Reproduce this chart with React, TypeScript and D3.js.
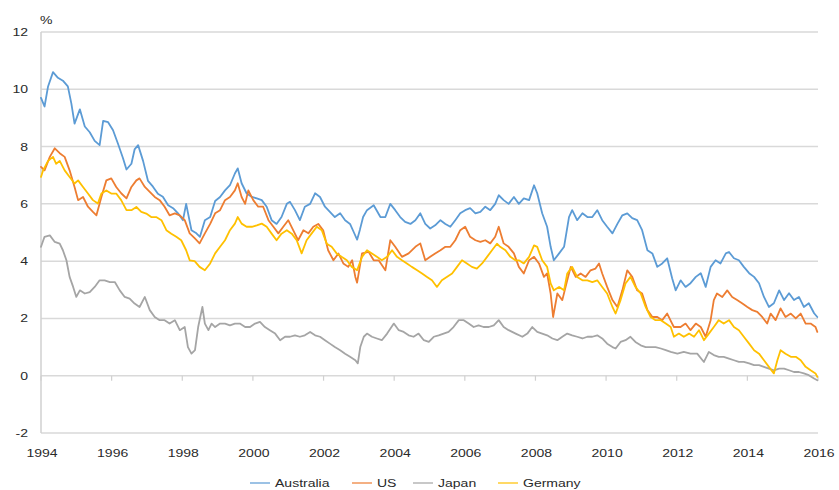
import React from "react";
import * as d3 from "d3";

const WIDTH = 839;
const HEIGHT = 490;

const seriesNames = ["Australia", "US", "Japan", "Germany"];
const seriesColors = ["#5B9BD5", "#ED7D31", "#A5A5A5", "#FFC000"];
const yTicks = [-2, 0, 2, 4, 6, 8, 10, 12];
const xTicks = [1994, 1996, 1998, 2000, 2002, 2004, 2006, 2008, 2010, 2012, 2014, 2016];

const australia: [number, number][] = [
  [1994.0, 9.7], [1994.1, 9.4], [1994.2, 10.1], [1994.34, 10.6], [1994.48, 10.4], [1994.62, 10.3],
  [1994.76, 10.1], [1994.86, 9.5], [1994.95, 8.8], [1995.1, 9.3], [1995.24, 8.7], [1995.38, 8.5],
  [1995.52, 8.2], [1995.66, 8.05], [1995.76, 8.9], [1995.9, 8.85], [1996.04, 8.57], [1996.18, 8.1],
  [1996.32, 7.6], [1996.42, 7.2], [1996.56, 7.4], [1996.65, 7.9], [1996.75, 8.05], [1996.89, 7.5],
  [1997.03, 6.8], [1997.17, 6.6], [1997.31, 6.35], [1997.45, 6.25], [1997.6, 5.95], [1997.74, 5.85],
  [1997.88, 5.67], [1998.02, 5.43], [1998.11, 6.0], [1998.26, 5.08], [1998.4, 4.97], [1998.5, 4.85],
  [1998.64, 5.43], [1998.79, 5.54], [1998.93, 6.1], [1999.07, 6.24], [1999.21, 6.47], [1999.35, 6.65],
  [1999.49, 7.06], [1999.57, 7.24], [1999.68, 6.72], [1999.82, 6.37], [1999.97, 6.24], [2000.11, 6.19],
  [2000.25, 6.13], [2000.39, 5.9], [2000.53, 5.43], [2000.67, 5.3], [2000.81, 5.54], [2000.96, 6.0],
  [2001.05, 6.07], [2001.19, 5.78], [2001.33, 5.43], [2001.47, 5.9], [2001.62, 6.0], [2001.76, 6.37],
  [2001.9, 6.24], [2002.04, 5.9], [2002.18, 5.72], [2002.32, 5.54], [2002.47, 5.67], [2002.61, 5.43],
  [2002.75, 5.3], [2002.86, 5.0], [2002.95, 4.75], [2003.03, 5.1], [2003.12, 5.54], [2003.23, 5.78],
  [2003.42, 5.95], [2003.61, 5.54], [2003.75, 5.54], [2003.89, 6.0], [2004.03, 5.78], [2004.17, 5.54],
  [2004.31, 5.37], [2004.46, 5.3], [2004.6, 5.43], [2004.74, 5.67], [2004.88, 5.3], [2005.02, 5.14],
  [2005.16, 5.25], [2005.31, 5.43], [2005.45, 5.3], [2005.59, 5.2], [2005.73, 5.43], [2005.87, 5.67],
  [2006.01, 5.78], [2006.15, 5.85], [2006.3, 5.67], [2006.44, 5.72], [2006.58, 5.9], [2006.72, 5.78],
  [2006.86, 6.0], [2006.96, 6.3], [2007.1, 6.13], [2007.24, 6.0], [2007.39, 6.24], [2007.53, 6.0],
  [2007.67, 6.19], [2007.82, 6.13], [2007.96, 6.65], [2008.05, 6.37], [2008.19, 5.67], [2008.33, 5.2],
  [2008.43, 4.5], [2008.52, 4.03], [2008.67, 4.27], [2008.81, 4.5], [2008.95, 5.54], [2009.04, 5.78],
  [2009.18, 5.43], [2009.33, 5.67], [2009.47, 5.54], [2009.61, 5.54], [2009.75, 5.78], [2009.89, 5.43],
  [2010.03, 5.2], [2010.18, 4.97], [2010.32, 5.3], [2010.46, 5.6], [2010.6, 5.67], [2010.74, 5.5],
  [2010.88, 5.43], [2011.02, 5.08], [2011.17, 4.38], [2011.31, 4.27], [2011.45, 3.8], [2011.59, 3.92],
  [2011.73, 4.1], [2011.87, 3.4], [2011.97, 2.98], [2012.11, 3.33], [2012.25, 3.1], [2012.39, 3.23],
  [2012.54, 3.45], [2012.68, 3.58], [2012.82, 3.1], [2012.96, 3.8], [2013.1, 4.03], [2013.24, 3.92],
  [2013.39, 4.27], [2013.48, 4.32], [2013.62, 4.1], [2013.76, 4.03], [2013.9, 3.8], [2014.05, 3.58],
  [2014.19, 3.45], [2014.33, 3.23], [2014.47, 2.75], [2014.61, 2.4], [2014.75, 2.53], [2014.9, 2.98],
  [2015.04, 2.64], [2015.18, 2.88], [2015.32, 2.64], [2015.46, 2.75], [2015.6, 2.4], [2015.74, 2.53],
  [2015.89, 2.18], [2015.98, 2.05],
];

const us: [number, number][] = [
  [1994.0, 7.29], [1994.1, 7.17], [1994.25, 7.64], [1994.39, 7.94], [1994.53, 7.77], [1994.67, 7.64],
  [1994.81, 7.17], [1994.95, 6.59], [1995.05, 6.13], [1995.19, 6.24], [1995.33, 5.9], [1995.47, 5.72],
  [1995.57, 5.6], [1995.71, 6.24], [1995.85, 6.82], [1995.99, 6.89], [1996.13, 6.59], [1996.27, 6.37],
  [1996.42, 6.19], [1996.56, 6.59], [1996.7, 6.82], [1996.79, 6.89], [1996.94, 6.59], [1997.08, 6.42],
  [1997.22, 6.24], [1997.36, 6.13], [1997.5, 5.9], [1997.64, 5.6], [1997.79, 5.67], [1997.93, 5.6],
  [1998.07, 5.43], [1998.21, 4.97], [1998.35, 4.8], [1998.49, 4.62], [1998.64, 4.97], [1998.79, 5.3],
  [1998.93, 5.67], [1999.07, 5.78], [1999.21, 6.13], [1999.35, 6.24], [1999.49, 6.47], [1999.57, 6.72],
  [1999.68, 6.24], [1999.78, 6.0], [1999.87, 6.47], [2000.01, 6.13], [2000.15, 5.9], [2000.29, 5.9],
  [2000.44, 5.43], [2000.58, 5.2], [2000.72, 4.97], [2000.86, 5.2], [2001.0, 5.43], [2001.14, 5.08],
  [2001.28, 4.73], [2001.43, 5.08], [2001.57, 4.97], [2001.71, 5.2], [2001.85, 5.3], [2001.99, 5.08],
  [2002.13, 4.38], [2002.28, 4.03], [2002.42, 4.27], [2002.56, 3.92], [2002.7, 3.8], [2002.81, 4.03],
  [2002.9, 3.45], [2002.95, 3.25], [2003.09, 4.27], [2003.28, 4.32], [2003.42, 4.03], [2003.56, 4.03],
  [2003.75, 3.68], [2003.89, 4.73], [2004.03, 4.5], [2004.22, 4.15], [2004.41, 4.27], [2004.6, 4.5],
  [2004.74, 4.62], [2004.88, 4.03], [2005.02, 4.15], [2005.16, 4.27], [2005.31, 4.38], [2005.45, 4.5],
  [2005.59, 4.5], [2005.73, 4.73], [2005.87, 5.08], [2006.01, 5.2], [2006.15, 4.85], [2006.3, 4.73],
  [2006.44, 4.67], [2006.58, 4.73], [2006.72, 4.62], [2006.86, 4.85], [2006.96, 5.2], [2007.1, 4.62],
  [2007.24, 4.5], [2007.39, 4.27], [2007.53, 3.8], [2007.67, 3.57], [2007.82, 4.03], [2007.96, 4.15],
  [2008.1, 3.92], [2008.24, 3.45], [2008.33, 3.57], [2008.43, 2.87], [2008.5, 2.05], [2008.62, 2.87],
  [2008.76, 2.64], [2008.9, 3.33], [2009.0, 3.8], [2009.14, 3.45], [2009.28, 3.57], [2009.42, 3.45],
  [2009.56, 3.68], [2009.7, 3.74], [2009.8, 3.92], [2009.89, 3.57], [2010.03, 3.1], [2010.18, 2.64],
  [2010.32, 2.4], [2010.46, 2.98], [2010.6, 3.68], [2010.74, 3.45], [2010.88, 2.98], [2011.02, 2.87],
  [2011.17, 2.29], [2011.31, 2.05], [2011.45, 2.05], [2011.59, 1.94], [2011.73, 2.17], [2011.87, 1.82],
  [2011.92, 1.7], [2012.11, 1.7], [2012.25, 1.82], [2012.39, 1.59], [2012.54, 1.82], [2012.68, 1.7],
  [2012.82, 1.36], [2012.96, 1.94], [2013.05, 2.64], [2013.14, 2.87], [2013.29, 2.75], [2013.43, 2.98],
  [2013.57, 2.75], [2013.71, 2.64], [2013.86, 2.52], [2014.0, 2.4], [2014.14, 2.29], [2014.28, 2.23],
  [2014.42, 2.05], [2014.56, 1.82], [2014.66, 2.17], [2014.8, 1.94], [2014.94, 2.35], [2015.08, 2.05],
  [2015.23, 2.17], [2015.37, 2.0], [2015.51, 2.17], [2015.65, 1.82], [2015.79, 1.82], [2015.93, 1.7],
  [2015.98, 1.53],
];

const japan: [number, number][] = [
  [1994.0, 4.5], [1994.1, 4.85], [1994.25, 4.9], [1994.39, 4.67], [1994.53, 4.61], [1994.62, 4.38],
  [1994.72, 4.03], [1994.81, 3.45], [1994.91, 3.1], [1995.0, 2.75], [1995.1, 2.98], [1995.24, 2.87],
  [1995.38, 2.92], [1995.52, 3.1], [1995.66, 3.33], [1995.8, 3.33], [1995.95, 3.27], [1996.09, 3.27],
  [1996.23, 2.98], [1996.37, 2.75], [1996.51, 2.69], [1996.65, 2.52], [1996.79, 2.4], [1996.94, 2.75],
  [1997.08, 2.29], [1997.22, 2.05], [1997.36, 1.94], [1997.5, 1.94], [1997.64, 1.82], [1997.79, 1.94],
  [1997.93, 1.59], [1998.07, 1.7], [1998.16, 1.0], [1998.26, 0.77], [1998.36, 0.89], [1998.45, 1.7],
  [1998.57, 2.4], [1998.64, 1.82], [1998.74, 1.59], [1998.83, 1.82], [1998.93, 1.7], [1999.07, 1.82],
  [1999.21, 1.82], [1999.35, 1.76], [1999.49, 1.82], [1999.63, 1.82], [1999.78, 1.7], [1999.92, 1.7],
  [2000.06, 1.82], [2000.2, 1.88], [2000.34, 1.7], [2000.48, 1.59], [2000.63, 1.47], [2000.77, 1.24],
  [2000.91, 1.36], [2001.05, 1.36], [2001.19, 1.41], [2001.33, 1.36], [2001.47, 1.41], [2001.62, 1.53],
  [2001.76, 1.41], [2001.9, 1.36], [2002.04, 1.24], [2002.18, 1.12], [2002.32, 1.0], [2002.47, 0.89],
  [2002.61, 0.77], [2002.75, 0.66], [2002.9, 0.54], [2002.97, 0.43], [2003.04, 1.0], [2003.14, 1.36],
  [2003.23, 1.47], [2003.37, 1.36], [2003.51, 1.3], [2003.65, 1.24], [2003.8, 1.47], [2003.99, 1.82],
  [2004.13, 1.59], [2004.27, 1.53], [2004.41, 1.41], [2004.55, 1.36], [2004.69, 1.47], [2004.84, 1.24],
  [2004.98, 1.18], [2005.12, 1.36], [2005.26, 1.41], [2005.4, 1.47], [2005.54, 1.53], [2005.68, 1.7],
  [2005.83, 1.94], [2005.97, 1.94], [2006.11, 1.82], [2006.25, 1.7], [2006.39, 1.76], [2006.53, 1.7],
  [2006.68, 1.7], [2006.82, 1.76], [2006.96, 1.94], [2007.1, 1.7], [2007.24, 1.59], [2007.44, 1.47],
  [2007.63, 1.36], [2007.77, 1.47], [2007.91, 1.7], [2008.05, 1.53], [2008.19, 1.47], [2008.33, 1.41],
  [2008.48, 1.3], [2008.62, 1.24], [2008.76, 1.36], [2008.9, 1.47], [2009.04, 1.41], [2009.18, 1.36],
  [2009.33, 1.3], [2009.47, 1.36], [2009.61, 1.36], [2009.75, 1.41], [2009.89, 1.3], [2010.03, 1.12],
  [2010.18, 1.0], [2010.27, 0.95], [2010.41, 1.18], [2010.55, 1.24], [2010.69, 1.36], [2010.83, 1.18],
  [2010.98, 1.06], [2011.12, 1.0], [2011.26, 1.0], [2011.4, 1.0], [2011.55, 0.95], [2011.69, 0.89],
  [2011.83, 0.83], [2012.02, 0.77], [2012.2, 0.83], [2012.39, 0.77], [2012.58, 0.77], [2012.77, 0.48],
  [2012.91, 0.83], [2013.05, 0.72], [2013.19, 0.66], [2013.33, 0.66], [2013.48, 0.6], [2013.62, 0.54],
  [2013.76, 0.48], [2013.9, 0.48], [2014.05, 0.43], [2014.19, 0.37], [2014.33, 0.37], [2014.47, 0.31],
  [2014.61, 0.25], [2014.75, 0.19], [2014.9, 0.25], [2015.04, 0.25], [2015.18, 0.19], [2015.32, 0.13],
  [2015.46, 0.13], [2015.6, 0.08], [2015.74, 0.02], [2015.89, -0.1], [2015.98, -0.16],
];

const germany: [number, number][] = [
  [1994.0, 6.94], [1994.06, 7.17], [1994.2, 7.5], [1994.34, 7.64], [1994.43, 7.4], [1994.53, 7.5],
  [1994.67, 7.17], [1994.81, 6.94], [1994.95, 6.71], [1995.05, 6.82], [1995.19, 6.59], [1995.33, 6.36],
  [1995.47, 6.13], [1995.61, 6.01], [1995.71, 6.36], [1995.85, 6.47], [1995.99, 6.36], [1996.13, 6.36],
  [1996.27, 6.13], [1996.42, 5.78], [1996.56, 5.78], [1996.7, 5.89], [1996.84, 5.72], [1996.98, 5.66],
  [1997.12, 5.54], [1997.26, 5.54], [1997.41, 5.43], [1997.55, 5.08], [1997.69, 4.96], [1997.83, 4.85],
  [1997.97, 4.73], [1998.11, 4.38], [1998.21, 4.03], [1998.35, 4.0], [1998.49, 3.8], [1998.64, 3.68],
  [1998.79, 3.92], [1998.93, 4.27], [1999.07, 4.5], [1999.21, 4.73], [1999.35, 5.08], [1999.49, 5.31],
  [1999.57, 5.54], [1999.68, 5.31], [1999.82, 5.2], [1999.97, 5.2], [2000.11, 5.25], [2000.25, 5.31],
  [2000.39, 5.2], [2000.53, 4.96], [2000.67, 4.73], [2000.81, 4.96], [2000.96, 5.08], [2001.1, 4.96],
  [2001.24, 4.73], [2001.38, 4.27], [2001.52, 4.73], [2001.66, 4.96], [2001.81, 5.2], [2001.95, 5.08],
  [2002.09, 4.61], [2002.23, 4.5], [2002.37, 4.27], [2002.51, 4.15], [2002.66, 4.03], [2002.8, 3.8],
  [2002.95, 3.68], [2003.09, 4.15], [2003.23, 4.38], [2003.37, 4.27], [2003.51, 4.15], [2003.65, 4.03],
  [2003.8, 4.15], [2003.94, 4.38], [2004.08, 4.15], [2004.22, 4.03], [2004.36, 3.92], [2004.5, 3.8],
  [2004.65, 3.68], [2004.79, 3.57], [2004.93, 3.45], [2005.07, 3.33], [2005.21, 3.1], [2005.35, 3.33],
  [2005.49, 3.45], [2005.64, 3.57], [2005.78, 3.8], [2005.92, 4.03], [2006.06, 3.92], [2006.2, 3.8],
  [2006.34, 3.74], [2006.49, 3.92], [2006.63, 4.15], [2006.77, 4.38], [2006.91, 4.61], [2007.0, 4.5],
  [2007.15, 4.38], [2007.29, 4.15], [2007.43, 4.03], [2007.53, 4.03], [2007.67, 3.92], [2007.82, 4.15],
  [2007.96, 4.55], [2008.05, 4.5], [2008.19, 4.03], [2008.33, 3.8], [2008.43, 3.22], [2008.52, 2.98],
  [2008.67, 3.1], [2008.81, 2.98], [2008.9, 3.57], [2009.04, 3.8], [2009.18, 3.45], [2009.33, 3.33],
  [2009.47, 3.33], [2009.61, 3.27], [2009.75, 3.33], [2009.89, 3.1], [2010.03, 2.87], [2010.18, 2.4],
  [2010.27, 2.17], [2010.41, 2.64], [2010.55, 3.22], [2010.69, 3.45], [2010.83, 3.1], [2010.98, 2.87],
  [2011.12, 2.4], [2011.26, 2.05], [2011.4, 1.94], [2011.55, 1.94], [2011.69, 1.82], [2011.83, 1.7],
  [2011.92, 1.36], [2012.06, 1.47], [2012.2, 1.36], [2012.35, 1.47], [2012.49, 1.36], [2012.63, 1.59],
  [2012.77, 1.24], [2012.91, 1.47], [2013.05, 1.7], [2013.19, 1.94], [2013.33, 1.82], [2013.48, 1.94],
  [2013.62, 1.7], [2013.76, 1.59], [2013.9, 1.36], [2014.05, 1.12], [2014.19, 0.89], [2014.33, 0.77],
  [2014.47, 0.54], [2014.61, 0.31], [2014.75, 0.08], [2014.85, 0.54], [2014.94, 0.89], [2015.08, 0.77],
  [2015.23, 0.66], [2015.37, 0.66], [2015.51, 0.54], [2015.65, 0.31], [2015.79, 0.19], [2015.93, 0.08],
  [2015.98, -0.04],
];

const seriesData = [australia, us, japan, germany];

const FONT = "'Liberation Sans', Arial, sans-serif";
const STRETCH = 1.22;

function SText({ x, y, anchor, children }: { x: number; y: number; anchor: string; children: React.ReactNode }) {
  return (
    <g transform={`translate(${x},${y}) scale(${STRETCH},1)`}>
      <text x={0} y={0} textAnchor={anchor as any} fontFamily={FONT} fontSize={11.5} fill="#2a2a2a">
        {children}
      </text>
    </g>
  );
}

export default function App() {
  const x = d3.scaleLinear().domain([1994, 2016]).range([41, 818]);
  const y = d3.scaleLinear().domain([-2, 12]).range([433, 32]);
  const line = d3
    .line<[number, number]>()
    .x((d) => x(d[0]))
    .y((d) => y(d[1]));

  const legendX = [250, 352, 413, 498];

  return (
    <svg
      width={WIDTH}
      height={HEIGHT}
      style={{ position: "absolute", left: 0, top: 0, background: "#fff" }}
    >
      <defs>
        <filter id="soft" x="-5%" y="-5%" width="110%" height="110%">
          <feGaussianBlur stdDeviation={0.4} />
        </filter>
      </defs>
      {yTicks.map((t) => (
        <line key={t} x1={x(1994)} x2={x(2016)} y1={y(t)} y2={y(t)} stroke="#d9d9d9" strokeWidth={1.5} />
      ))}
      <line x1={x(1994)} x2={x(1994)} y1={y(12)} y2={y(-2)} stroke="#d0d0d0" strokeWidth={1.5} />
      {xTicks.map((t) => (
        <line key={t} x1={x(t)} x2={x(t)} y1={y(0)} y2={y(0) + 5} stroke="#d0d0d0" strokeWidth={1.2} />
      ))}
      {yTicks.map((t) => (
        <SText key={t} x={28} y={y(t) + 4} anchor="end">
          {t}
        </SText>
      ))}
      <SText x={40} y={24} anchor="start">%</SText>
      {xTicks.map((t) => (
        <SText key={t} x={x(t) + 1} y={457} anchor="middle">
          {t}
        </SText>
      ))}
      <g fill="none" strokeLinejoin="round" strokeLinecap="round" filter="url(#soft)">
        {seriesData.map((s, i) => (
          <path key={seriesNames[i]} d={line(s) || ""} stroke={seriesColors[i]} strokeWidth={1.8} />
        ))}
      </g>
      {seriesNames.map((n, i) => (
        <g key={n}>
          <line x1={legendX[i]} x2={legendX[i] + 20} y1={483} y2={483} stroke={seriesColors[i]} strokeWidth={2} opacity={0.6} />
          <SText x={legendX[i] + 25} y={487} anchor="start">
            {n}
          </SText>
        </g>
      ))}
    </svg>
  );
}
